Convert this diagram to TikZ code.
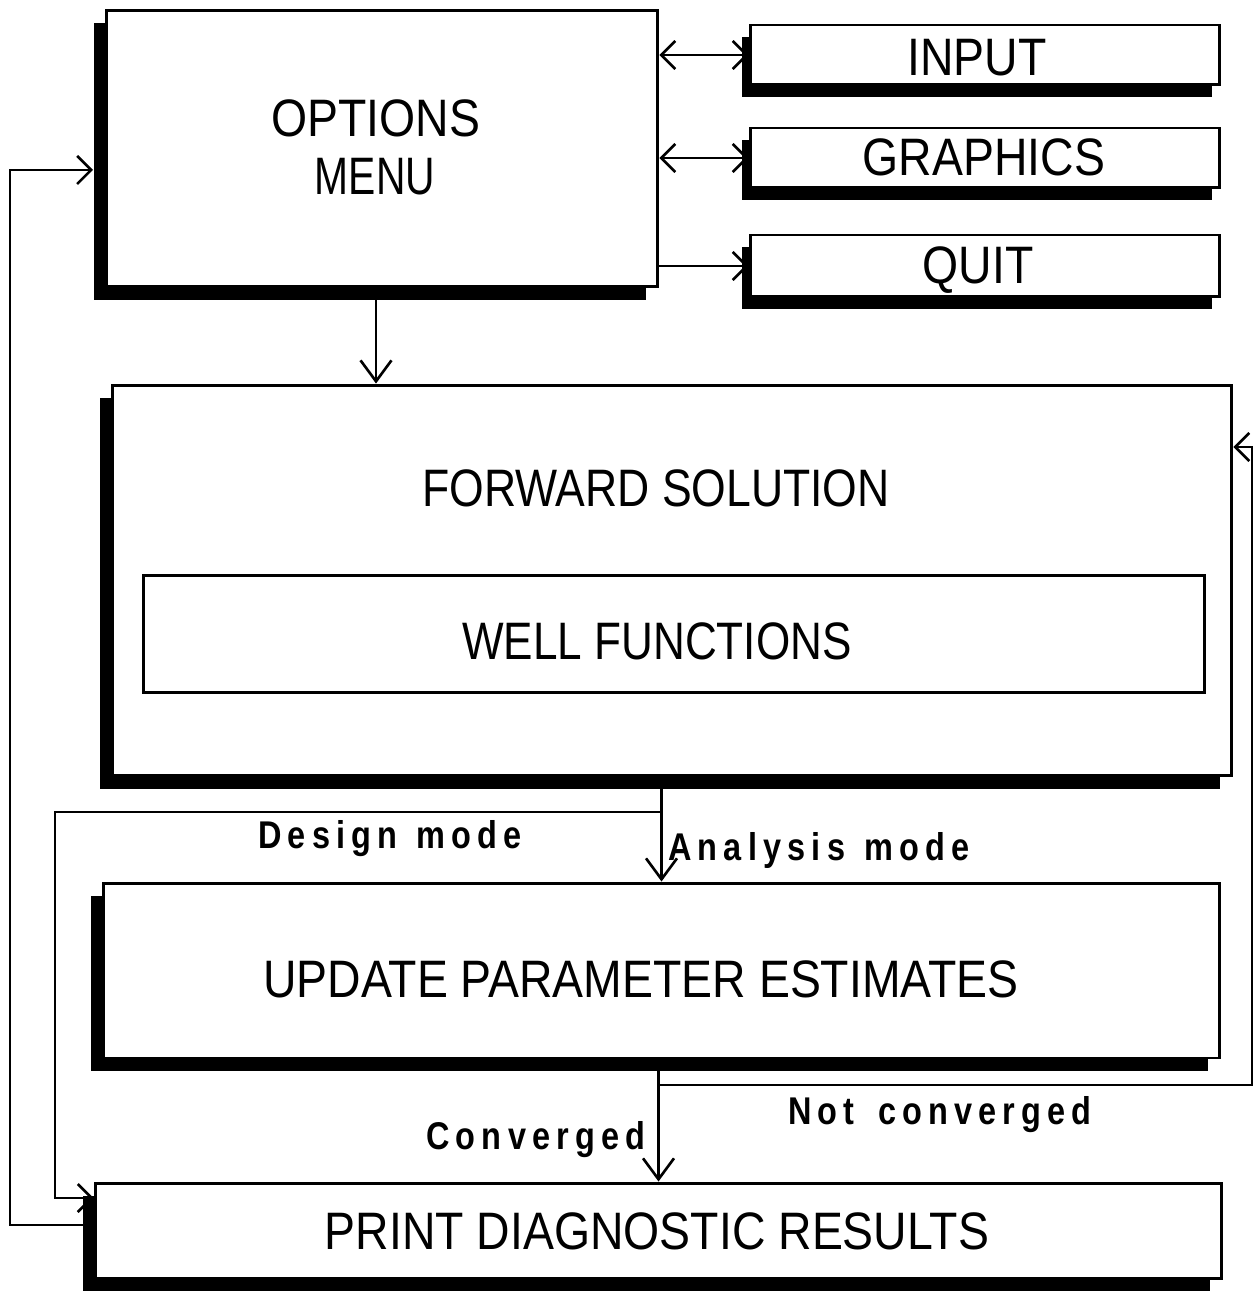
\documentclass[tikz,border=0pt]{standalone}
\usepackage{fontspec}
\usepackage{graphicx}
\setmainfont{Liberation Sans}
\newfontfamily\bxfont[FakeStretch=0.88]{Liberation Sans}
\newfontfamily\lbfont[FakeStretch=0.84,LetterSpace=16]{Liberation Sans}
\usetikzlibrary{arrows.meta,shadows}
\begin{document}
\begin{tikzpicture}[x=0.02cm,y=-0.02cm,
  box/.style={draw, line width=1.7pt, fill=white, rectangle, inner sep=0pt},
  shbox/.style={box, general shadow={fill=black, shadow xshift=-0.24cm, shadow yshift=-0.26cm}},
  smshbox/.style={box, general shadow={fill=black, shadow xshift=-0.16cm, shadow yshift=-0.24cm}},
  btxt/.style={font=\bxfont\fontsize{30}{36}\selectfont, inner sep=0pt, anchor=base},
  ltxt/.style={font=\lbfont\bfseries\fontsize{22}{26}\selectfont, inner sep=0pt, anchor=base west},
  conn/.style={line width=1.5pt},
  arr/.style={conn, -{Straight Barb[length=0.28cm,width=0.56cm]}},
  bigarr/.style={conn, -{Straight Barb[length=0.42cm,width=0.62cm]}},
  darr/.style={conn, {Straight Barb[length=0.28cm,width=0.56cm]}-{Straight Barb[length=0.28cm,width=0.56cm]}}
]
\useasboundingbox[fill=white] (0,0) rectangle (1256,1293);

% boxes
\node[shbox, minimum width=11.04cm, minimum height=5.54cm] (opt) at (382,148.5) {};
\node[smshbox, minimum width=9.4cm, minimum height=1.2cm] (inp) at (985,55) {};
\node[smshbox, minimum width=9.4cm, minimum height=1.2cm] (gra) at (985,158) {};
\node[smshbox, minimum width=9.4cm, minimum height=1.24cm] (quit) at (985,266) {};
\node[shbox, minimum width=22.4cm, minimum height=7.82cm] (fwd) at (672,580.5) {};
\node[box, minimum width=21.24cm, minimum height=2.36cm] (well) at (674,634) {};
\node[shbox, minimum width=22.34cm, minimum height=3.5cm] (upd) at (661.5,970.5) {};
\node[shbox, minimum width=22.54cm, minimum height=1.9cm] (prt) at (658.5,1230.5) {};

% box texts
\node[btxt] (topt1) at (376,137) {OPTIONS};
\node[btxt] (topt2) at (375,195) {\scalebox{0.88}[1]{MENU}};
\node[btxt] (tinp) at (977,76) {INPUT};
\node[btxt] (tgra) at (984,176) {GRAPHICS};
\node[btxt] (tquit) at (978,284) {QUIT};
\node[btxt] (tfwd) at (656,506) {\scalebox{0.96}[1]{FORWARD SOLUTION}};
\node[btxt] (twell) at (657,659) {\scalebox{0.95}[1]{WELL FUNCTIONS}};
\node[btxt] (tupd) at (641,997) {UPDATE PARAMETER ESTIMATES};
\node[btxt] (tprt) at (657,1249) {PRINT DIAGNOSTIC RESULTS};

% labels
\node[ltxt] (ldes) at (258,848) {Design\hspace{0.5em}mode};
\node[ltxt] (lana) at (668,860) {Analysis\hspace{0.5em}mode};
\node[ltxt] (lnot) at (788,1124) {Not\hspace{0.6em}converged};
\node[ltxt] (lcon) at (426,1149) {Converged};

% helper coordinates
\coordinate (dsplit) at (upd.north |- 0,812);
\coordinate (dcorner) at (55,812);
\coordinate (nsplit) at (prt.north |- 0,1085);
\coordinate (ncorner) at (1252,1085);
\coordinate (rcorner) at (10,1225);
\coordinate (optin) at (93,170);

% connectors
\draw[darr] (opt.east |- inp.west) -- (inp.west);
\draw[darr] (opt.east |- gra.west) -- (gra.west);
\draw[arr] (opt.east |- quit.west) -- (quit.west);
\draw[bigarr] (opt.south -| topt1.south) -- (fwd.north -| topt1.south);
\draw[bigarr] (fwd.south -| upd.north) -- (upd.north);
\draw[arr] (dsplit) -- (dcorner) |- (prt.west |- 0,1198);
\draw[bigarr] (upd.south -| prt.north) -- (prt.north);
\draw[arr] (nsplit) -- (ncorner) |- (fwd.east |- 0,447);
\draw[arr] (prt.west |- rcorner) -- (rcorner) |- (optin);
\end{tikzpicture}
\end{document}
